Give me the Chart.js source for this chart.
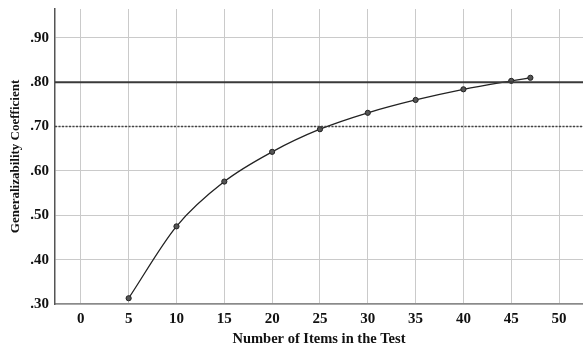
<!DOCTYPE html>
<html>
<head>
<meta charset="utf-8">
<script src="https://cdn.jsdelivr.net/npm/chart.js@4/dist/chart.umd.min.js"></script>
<style>
  body { margin: 0; background: #fff; }
  #Chart { display: block; }
</style>
</head>
<body>
<canvas id="Chart" width="583" height="349"></canvas>
<script>
// values
var items = [5, 10, 15, 20, 25, 30, 35, 40, 45, 47];
var coefficients = [0.313, 0.475, 0.576, 0.643, 0.694, 0.731, 0.760, 0.784, 0.803, 0.810];
var xRange = [-2.7, 52.5];
var yRange = [0.30, 0.965];
var criterionHigh = 0.80; // solid line
var criterionLow = 0.70;  // dotted line

var points = [];
for (var i = 0; i < items.length; i++) {
  points.push({ x: items[i], y: coefficients[i] });
}

var serif = "'Liberation Serif', 'Times New Roman', serif";

var ctx = document.getElementById("Chart");
var chart = new Chart(ctx, {
  type: 'scatter',
  data: {
    datasets: [{
      label: "Criterion .80",
      data: [{ x: xRange[0], y: criterionHigh }, { x: xRange[1], y: criterionHigh }],
      showLine: true,
      borderColor: "#3a3a3a",
      borderWidth: 2,
      pointRadius: 0
    }, {
      label: "Criterion .70",
      data: [{ x: xRange[0], y: criterionLow }, { x: xRange[1], y: criterionLow }],
      showLine: true,
      borderColor: "#444",
      borderWidth: 1.5,
      borderDash: [2, 1.5],
      pointRadius: 0
    }, {
      label: "Generalizability",
      data: points,
      showLine: true,
      cubicInterpolationMode: 'monotone',
      borderColor: "#222",
      borderWidth: 1.3,
      pointRadius: 2.6,
      pointBackgroundColor: "#555",
      pointBorderColor: "#222",
      pointBorderWidth: 1
    }]
  },
  options: {
    responsive: false,
    animation: false,
    layout: { autoPadding: false, padding: { top: 9, right: 0, left: 0, bottom: 0 } },
    plugins: {
      legend: { display: false },
      tooltip: { enabled: false }
    },
    scales: {
      x: {
        type: 'linear',
        min: xRange[0],
        max: xRange[1],
        afterFit: function(scale) {
          scale.height = 45;
          scale.paddingLeft = 0;
          scale.paddingRight = 0;
        },
        ticks: {
          stepSize: 5,
          includeBounds: false,
          padding: 6,
          color: "#111",
          font: { family: serif, size: 15, weight: 'bold' }
        },
        grid: { color: "#cacaca", lineWidth: 1, drawTicks: false },
        border: { color: "#8a8a8a", width: 1.5 },
        title: {
          display: true,
          text: "Number of Items in the Test",
          color: "#111",
          padding: { top: 0, bottom: 1 },
          font: { family: serif, size: 14.5, weight: 'bold' }
        }
      },
      y: {
        min: yRange[0],
        max: yRange[1],
        afterFit: function(scale) {
          scale.width = 55;
          scale.paddingTop = 0;
          scale.paddingBottom = 0;
        },
        ticks: {
          stepSize: 0.1,
          includeBounds: false,
          padding: 6,
          color: "#111",
          font: { family: serif, size: 15, weight: 'bold' },
          callback: function(v) { return v.toFixed(2).replace(/^0/, ''); }
        },
        grid: { color: "#cacaca", lineWidth: 1, drawTicks: false },
        border: { color: "#555", width: 1.5 },
        title: {
          display: true,
          text: "Generalizability Coefficient",
          color: "#111",
          padding: { top: 8, bottom: 0 },
          font: { family: serif, size: 13, weight: 'bold' }
        }
      }
    }
  }
});
</script>
</body>
</html>
